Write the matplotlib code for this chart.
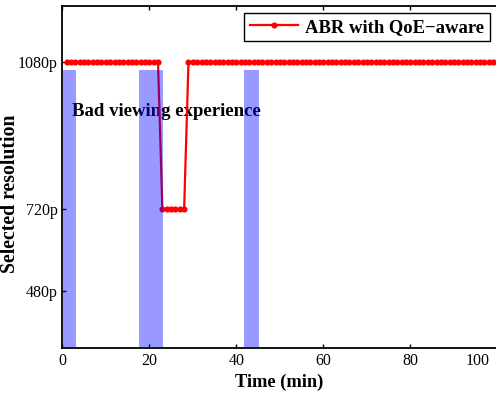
import matplotlib.pyplot as plt
import matplotlib.transforms as mtransforms
import numpy as np

plt.rcParams['font.family'] = ['Liberation Serif', 'DejaVu Serif']
plt.rcParams['font.size'] = 11

# resolution levels mapped to plot positions (480p, 720p, 1080p)
res_labels = ['480p', '720p', '1080p']
res_levels = [1.0, 2.0, 3.79]

# selected resolution per minute
time_min = np.arange(1, 111)
selected = ['1080p'] * 22 + ['720p'] * 6 + ['1080p'] * 82
sel_val = [res_levels[res_labels.index(s)] for s in selected]

# periods of bad viewing experience (start, end) in minutes
bad_start = [0.2, 17.6, 41.8]
bad_end = [3.2, 23.1, 45.2]
bad_top = 3.70

fig = plt.figure(figsize=(4.96, 3.93), dpi=100)
ax = fig.add_axes([0.1256, 0.1145, 0.965, 0.8702])

ax.plot(time_min, sel_val, '-o', color='red', lw=1.6, ms=3.4,
        label='ABR with QoE\u2212aware', zorder=2)

ymin, ymax = 0.30, 4.48
for s, e in zip(bad_start, bad_end):
    ax.bar(s, bad_top - ymin, width=e - s, bottom=ymin, align='edge',
           color='blue', alpha=0.4, lw=0, zorder=3)

ax.text(2.2, 3.19, 'Bad viewing experience', fontweight='bold', fontsize=13.5,
        va='center', ha='left', zorder=1)

ax.set_xlim(0, 110)
ax.set_ylim(ymin, ymax)
ax.set_xticks(np.arange(0, 101, 20))
ax.set_yticks(res_levels)
ax.set_yticklabels(res_labels)
ax.tick_params(direction='in', top=True, right=True, length=3, width=1,
               labelsize=11.5)
lab = ax.get_xticklabels()[-1]
lab.set_ha('right')
lab.set_transform(lab.get_transform() +
                  mtransforms.ScaledTranslation(-0.08, 0, fig.dpi_scale_trans))
for sp in ax.spines.values():
    sp.set_linewidth(1.3)

ax.set_xlabel('Time (min)', fontweight='bold', fontsize=13.2)
ax.xaxis.set_label_coords(0.453, -0.075)
ax.set_ylabel('Selected resolution', fontweight='bold', fontsize=14.2)
ax.yaxis.set_label_coords(-0.088, 0.45)

leg = ax.legend(loc='upper right', bbox_to_anchor=(0.988, 0.967),
                bbox_transform=fig.transFigure, fancybox=False,
                edgecolor='black', framealpha=1, handlelength=2.6,
                handletextpad=0.4, borderaxespad=0, borderpad=0.3,
                prop={'weight': 'bold', 'size': 13.4})
leg.get_frame().set_linewidth(1.0)

fig.savefig('out.png', dpi=100)
